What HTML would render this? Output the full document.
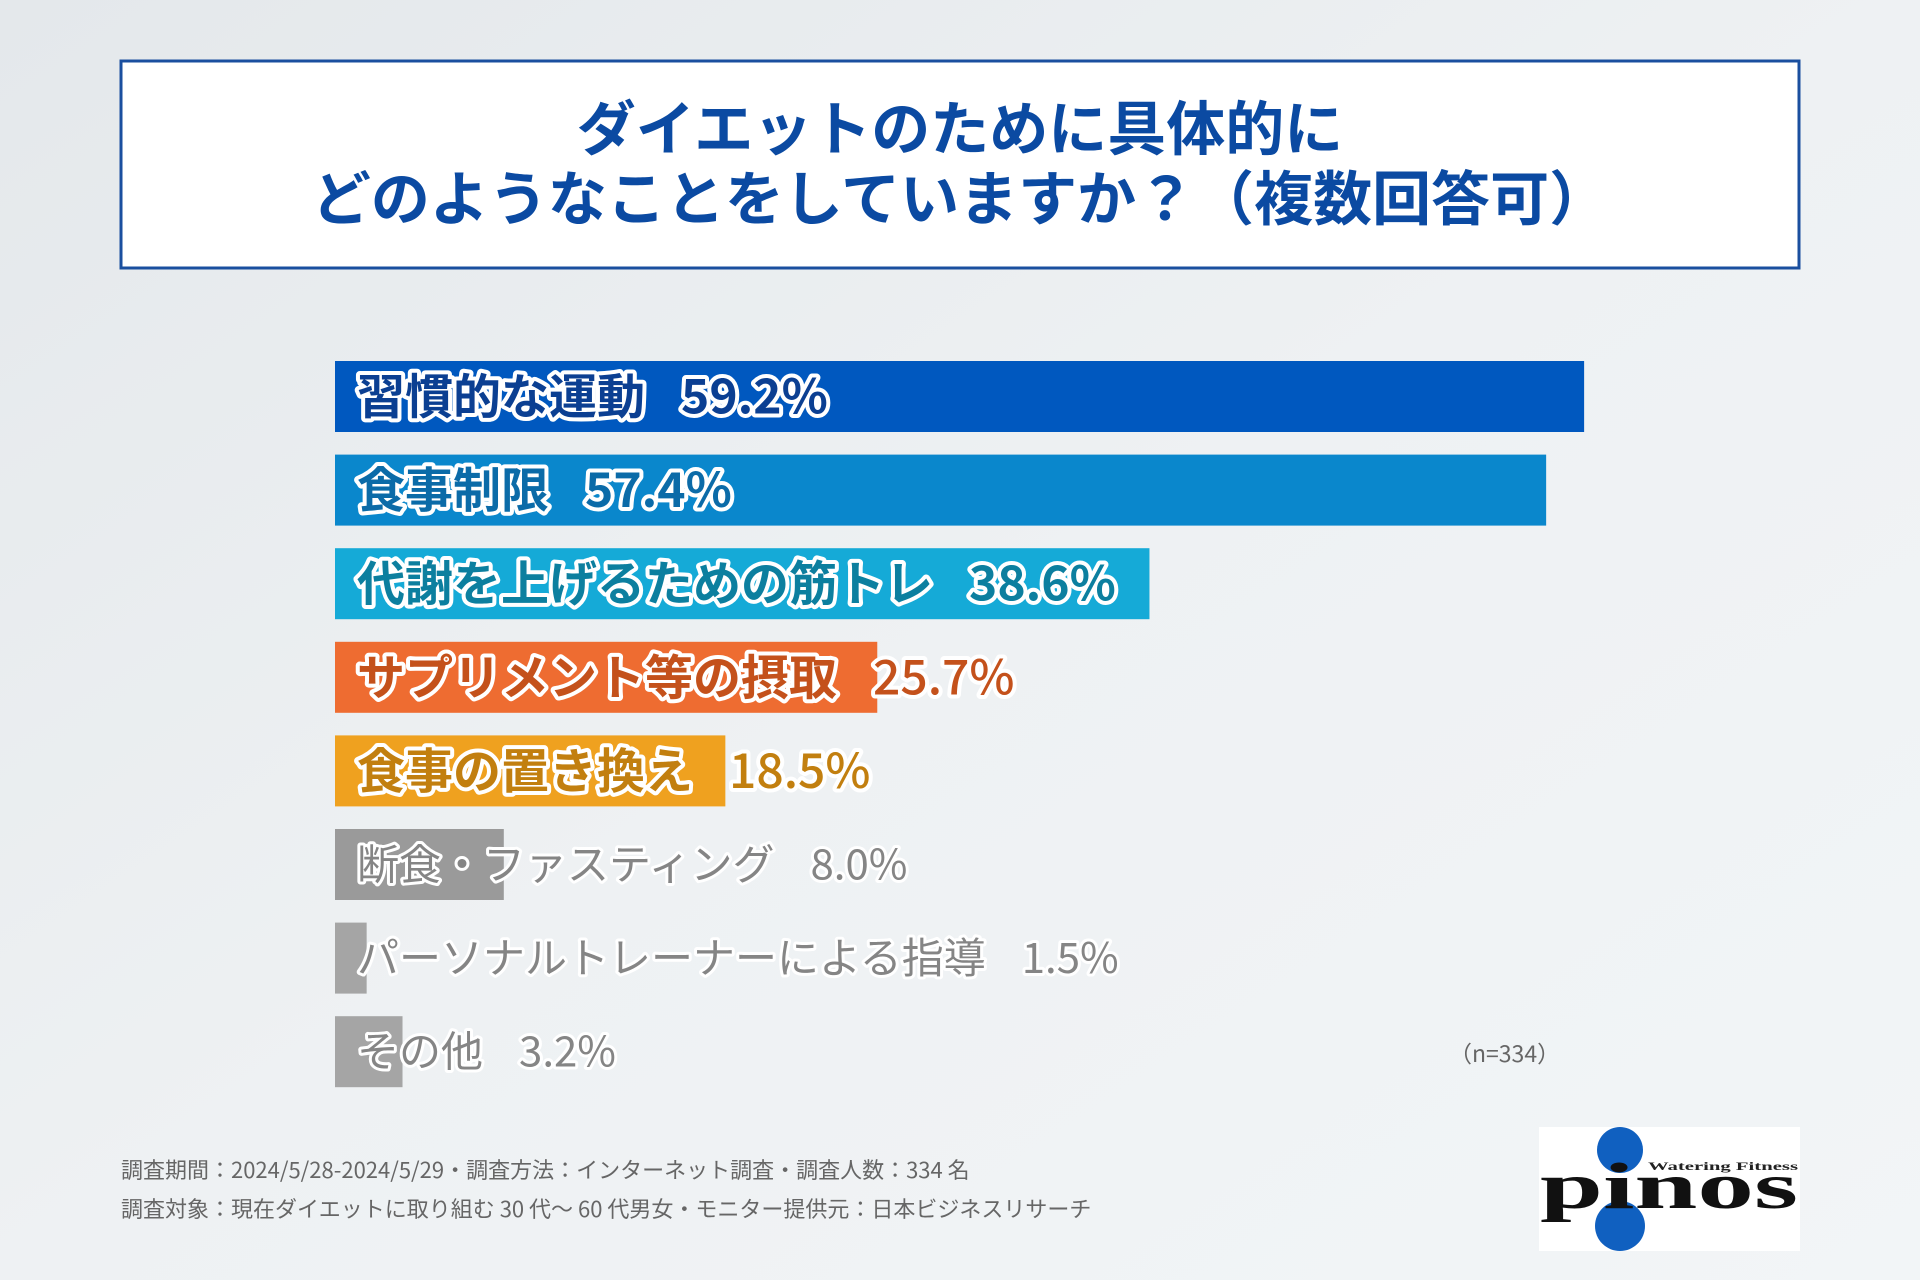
<!DOCTYPE html>
<html><head><meta charset="utf-8">
<style>
html,body{margin:0;padding:0;width:1920px;height:1280px;overflow:hidden;}
body{background:#eceff1;font-family:"Noto Sans CJK JP","Liberation Sans",sans-serif;}
svg{display:block;}
</style></head>
<body>
<svg id="chart" width="1920" height="1280" viewBox="0 0 1920 1280">
  <defs>
    <linearGradient id="bg" x1="0" y1="0" x2="1" y2="1">
      <stop offset="0" stop-color="#e4e8eb"/>
      <stop offset="0.5" stop-color="#eef1f3"/>
      <stop offset="1" stop-color="#f2f5f7"/>
    </linearGradient>
  </defs>
  <rect x="0" y="0" width="1920" height="1280" fill="url(#bg)"/>
  <g>
    <rect x="121" y="61" width="1678" height="207" fill="#ffffff" stroke="#1a4f9f" stroke-width="3"/>
    <text x="960" y="150" text-anchor="middle" font-size="59" font-weight="bold" fill="#0b4aa2" font-family="'Noto Sans CJK JP',sans-serif">ダイエットのために具体的に</text>
    <text x="960" y="220" text-anchor="middle" font-size="59" font-weight="bold" fill="#0b4aa2" font-family="'Noto Sans CJK JP',sans-serif">どのようなことをしていますか？（複数回答可）</text>
  </g>
  <g id="bars"></g>
  <text x="1449" y="1062" font-size="23" fill="#666" font-family="'Noto Sans CJK JP',sans-serif">（n=334）</text>
  <text x="121" y="1178" font-size="22" fill="#666" font-family="'Noto Sans CJK JP',sans-serif">調査期間：2024/5/28-2024/5/29・調査方法：インターネット調査・調査人数：334 名</text>
  <text x="121" y="1217" font-size="22" fill="#666" font-family="'Noto Sans CJK JP',sans-serif">調査対象：現在ダイエットに取り組む 30 代～ 60 代男女・モニター提供元：日本ビジネスリサーチ</text>
  <g>
    <rect x="1539" y="1127" width="261" height="124" fill="#ffffff"/>
    <circle cx="1620" cy="1150" r="23" fill="#1060c0"/>
    <circle cx="1620" cy="1226" r="25" fill="#1060c0"/>
    <text x="1540" y="1208" font-size="66" font-weight="bold" fill="#111" font-family="'Liberation Serif',serif" textLength="258" lengthAdjust="spacingAndGlyphs">pinos</text>
    <text x="1648" y="1170" font-size="12" font-weight="bold" fill="#222" font-family="'Liberation Serif',serif" textLength="150" lengthAdjust="spacingAndGlyphs">Watering Fitness</text>
  </g>
</svg>
<script>
const categories = ["習慣的な運動","食事制限","代謝を上げるための筋トレ","サプリメント等の摂取","食事の置き換え","断食・ファスティング","パーソナルトレーナーによる指導","その他"];
const values = [59.2,57.4,38.6,25.7,18.5,8.0,1.5,3.2];
const valueLabels = ["59.2%","57.4%","38.6%","25.7%","18.5%","8.0%","1.5%","3.2%"];
const barColors = ["#0058bf","#0a87cc","#15aad7","#ee6c31","#efa11f","#9a9a9a","#a5a5a5","#a5a5a5"];
const textColors = ["#0b3f92","#0b6ba8","#0c7f9f","#c4511b","#c27f0f","#858585","#858585","#858585"];

const X0 = 335, PX_PER_PCT = 21.1, Y0 = 361, PITCH = 93.6, BAR_H = 71, GAP = 36;
const xScale = v => X0 + v * PX_PER_PCT;
const yScale = i => Y0 + i * PITCH;
const g = document.getElementById('bars');
const NS = 'http://www.w3.org/2000/svg';
function mkText(x, y, size, weight, color, sw, str) {
  const t = document.createElementNS(NS, 'text');
  t.setAttribute('x', x);
  t.setAttribute('y', y);
  t.setAttribute('font-size', size);
  t.setAttribute('font-weight', weight);
  t.setAttribute('fill', color);
  t.setAttribute('stroke', '#ffffff');
  t.setAttribute('stroke-width', sw);
  t.setAttribute('stroke-linejoin', 'round');
  t.setAttribute('paint-order', 'stroke');
  t.setAttribute('font-family', "'Noto Sans CJK JP','Liberation Sans',sans-serif");
  t.textContent = str;
  return t;
}
categories.forEach((cat, i) => {
  const r = document.createElementNS(NS, 'rect');
  r.setAttribute('x', X0);
  r.setAttribute('y', yScale(i));
  r.setAttribute('width', xScale(values[i]) - X0);
  r.setAttribute('height', BAR_H);
  r.setAttribute('fill', barColors[i]);
  
  
  g.appendChild(r);
  const colored = i < 5;
  const size = colored ? 48 : 42;
  const y = yScale(i) + BAR_H / 2 + (colored ? 17 : 15);
  const t = mkText(357, y, size, colored ? 'bold' : 'normal', textColors[i], colored ? 8 : 6, cat);
  
  
  g.appendChild(t);
  const w = t.getComputedTextLength();
  const p = mkText(357 + w + GAP, y, size, i < 3 ? 'bold' : (colored ? '500' : 'normal'), textColors[i], colored ? 8 : 6, valueLabels[i]);
  
  
  g.appendChild(p);
});
</script>
</body></html>
